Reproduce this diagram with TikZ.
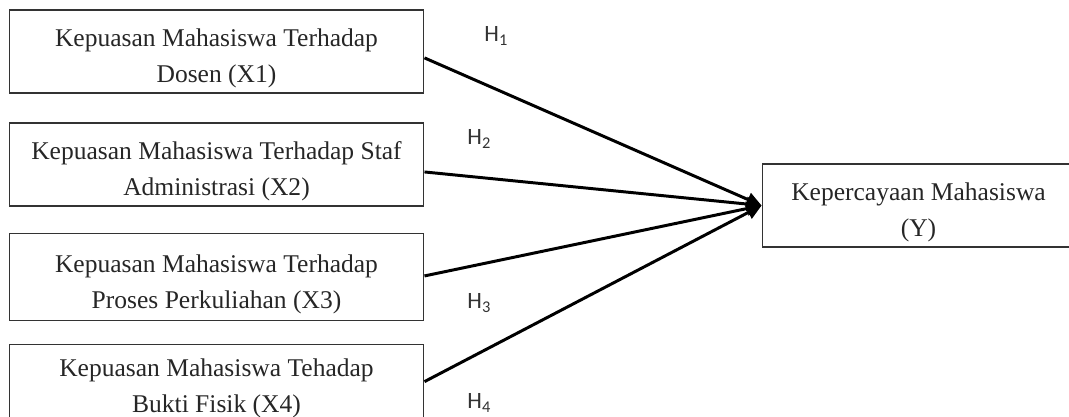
\documentclass[tikz,border=0pt]{standalone}
\usepackage{fontspec}
\setmainfont{Liberation Serif}
\newfontfamily\hfont{Carlito}
\usetikzlibrary{arrows.meta}
\newcommand{\topgap}{\rule{0pt}{15pt}}

\begin{document}
\begin{tikzpicture}[x=0.47pt,y=-0.47pt,
	varbox/.style={draw=black!80,line width=0.5pt,align=center,inner sep=0pt,text=black!85,
		minimum height=39pt,font=\fontsize{12}{16.8}\selectfont},
	hyp/.style={anchor=west,inner sep=0pt,text=black!80,font=\hfont\fontsize{11}{13}\selectfont},
	link/.style={line width=1.4pt,-{Triangle[length=7pt,width=6.5pt]}}]
			\useasboundingbox (0,0) rectangle (1069,416);
			% variabel bebas
			\node[varbox,minimum width=195pt] (x1) at (216.5,51.5) {\topgap Kepuasan Mahasiswa Terhadap\\Dosen (X1)};
			\node[varbox,minimum width=195pt] (x2) at (216.5,164.5) {\topgap Kepuasan Mahasiswa Terhadap Staf\\Administrasi (X2)};
			\node[varbox,minimum width=195pt,minimum height=41pt] (x3) at (216.5,277) {\topgap Kepuasan Mahasiswa Terhadap\\Proses Perkuliahan (X3)};
			\node[varbox,minimum width=195pt,minimum height=41pt] (x4) at (216.5,388) {Kepuasan Mahasiswa Tehadap\\Bukti Fisik (X4)};
			% variabel terikat
			\node[varbox,minimum width=147pt] (y) at (918.5,205.5) {\topgap Kepercayaan Mahasiswa\\(Y)};
			% hipotesis
			\draw[link] ([yshift=-3pt]x1.east) -- (y.west);
			\draw[link] ([yshift=-3.5pt]x2.east) -- (y.west);
			\draw[link] ([yshift=0.5pt]x3.east) -- (y.west);
			\draw[link] ([yshift=3pt]x4.east) -- (y.west);
			\node[hyp] (h1) at (484,36) {H\textsubscript{1}};
			\node[hyp] (h2) at (467,139) {H\textsubscript{2}};
			\node[hyp] (h3) at (467,303) {H\textsubscript{3}};
			\node[hyp] (h4) at (467,403) {H\textsubscript{4}};
	\end{tikzpicture}
\end{document}
